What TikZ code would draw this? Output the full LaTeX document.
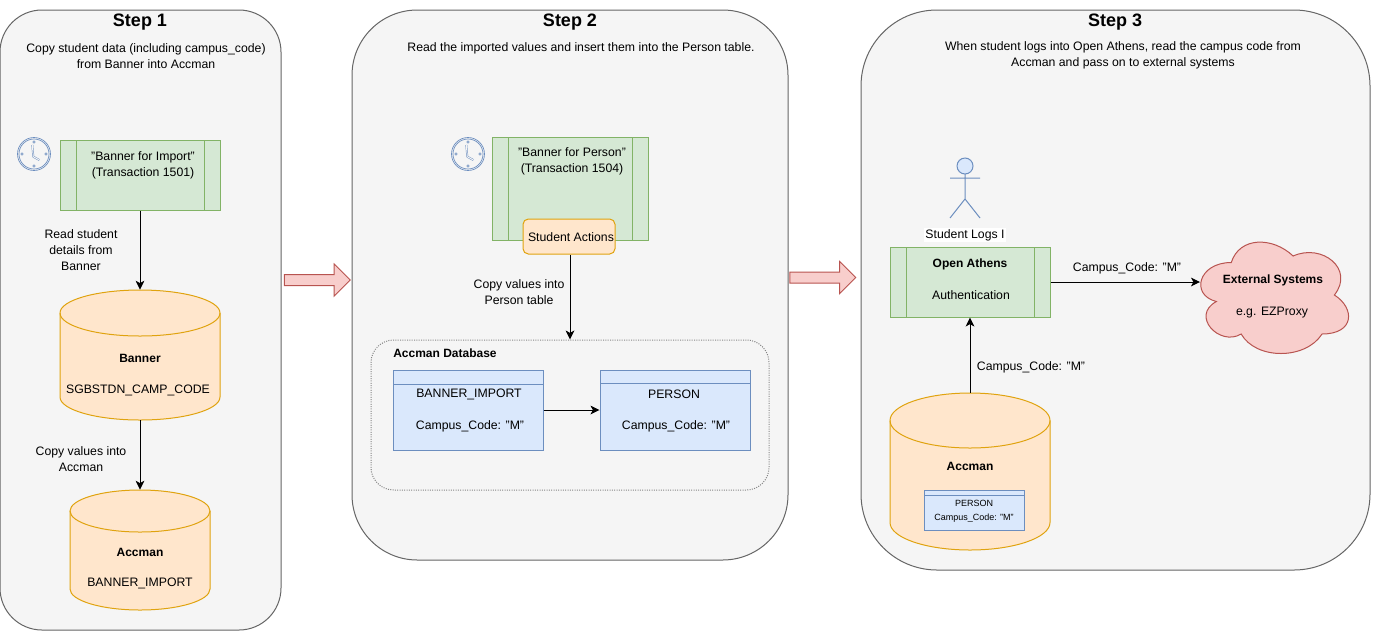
\documentclass[tikz,border=0pt]{standalone}
\usepackage{fontspec}
\setmainfont{Liberation Sans}
\usetikzlibrary{arrows.meta,shapes.arrows}
\definecolor{panelfill}{HTML}{F5F5F5}\definecolor{panelline}{HTML}{666666}
\definecolor{procfill}{HTML}{D5E8D4}\definecolor{procline}{HTML}{82B366}
\definecolor{dbfill}{HTML}{FFE6CC}\definecolor{dbline}{HTML}{E0A30F}
\definecolor{tabfill}{HTML}{DAE8FC}\definecolor{tabline}{HTML}{6C8EBF}
\definecolor{redfill}{HTML}{F8CECC}\definecolor{redline}{HTML}{B85450}
\tikzset{>={Stealth[inset=1.8pt,length=6.75pt,width=6.5pt]},every node/.style={font=\fontsize{9.2pt}{12pt}\selectfont,align=center,inner sep=0pt},
flow/.style={line width=.75pt,->},
panel/.style={draw=panelline,fill=panelfill,line width=.75pt},
steptitle/.style={font=\fontsize{13.5pt}{14pt}\selectfont\bfseries},
boldtxt/.style={font=\fontsize{9pt}{12pt}\selectfont\bfseries},
smalltxt/.style={font=\fontsize{6.75pt}{9pt}\selectfont},
procbox/.style={draw=procline,fill=procfill,line width=.75pt,minimum width=#1*.75pt,
  path picture={\draw[procline,line width=.75pt] ([xshift=12pt]path picture bounding box.north west)--([xshift=12pt]path picture bounding box.south west)
  ([xshift=-12pt]path picture bounding box.north east)--([xshift=-12pt]path picture bounding box.south east);}},
tabbox/.style={draw=tabline,fill=tabfill,line width=.75pt,
  path picture={\draw[tabline,line width=.75pt] ([yshift=-#1*.75pt]path picture bounding box.north west)--([yshift=-#1*.75pt]path picture bounding box.north east);}},
dbline/.style={draw=dbline,line width=.75pt},
bigarrow/.style={single arrow,draw=redline,fill=redfill,line width=.75pt,inner sep=3.75pt,minimum width=23.25pt,minimum height=49.5pt,single arrow head extend=7.9pt,single arrow head indent=0pt}}
% name, centre x, top y, half width, height, ellipse half height
\newcommand{\dbcylinder}[6]{\node[minimum width=#4*1.5pt,minimum height=#5*.75pt] (#1) at (#2,#3+#5/2){};
\filldraw[dbline,fill=dbfill] (#2-#4,#3+#6) arc[start angle=180,end angle=0,x radius=#4,y radius=-#6]--(#2+#4,#3+#5-#6) arc[start angle=0,end angle=180,x radius=#4,y radius=#6]--cycle;
\draw[dbline] (#2-#4,#3+#6) arc[start angle=180,end angle=0,x radius=#4,y radius=#6];}
\newcommand{\clockicon}{\draw[tabline,line width=.5pt] (0,0) circle(16.5) (0,0) circle(15);\draw[tabline,line width=.35pt,double=panelfill,double distance=.7pt,line join=round] (-1.7,-9)--(-.7,2.7)--(5.3,6);
\foreach \a in {0,90,180,270}{\draw[tabline,line width=.4pt] (\a:12) circle(1.3);}}
\newcommand{\cloudpath}{\filldraw[draw=redline,fill=redfill,line width=.75pt] (.25,.25) .. controls (.05,.25) and (0,.5) .. (.16,.55) .. controls (0,.66) and (.18,.9) .. (.31,.8) .. controls (.4,1) and (.7,1) .. (.8,.8) .. controls (1,.8) and (1,.6) .. (.875,.5) .. controls (1,.3) and (.8,.1) .. (.625,.2) .. controls (.5,.05) and (.3,.05) .. (.25,.25)--cycle;}
\begin{document}
\begin{tikzpicture}[x=.75pt,y=-.75pt]
\useasboundingbox (0,0) rectangle (1373,633);
\draw[panel,rounded corners=31.5pt] (0,10) rectangle (281,630);
\draw[panel,rounded corners=49pt] (352,10) rectangle (788,560);
\draw[panel,rounded corners=57pt] (861,10) rectangle (1370,570);
\node[steptitle] (title1) at (140,22){Step 1};
\node[steptitle] (title2) at (570,22){Step 2};
\node[steptitle] (title3) at (1115,22){Step 3};
\node (intro1) at (146,56){Copy student data (including campus\_code)\\from Banner into Accman};
\node (intro2) at (581,48){Read the imported values and insert them into the Person table.};
\node (intro3) at (1123,55){When student logs into Open Athens, read the campus code from\\Accman and pass on to external systems};
% step 1
\begin{scope}[shift={(34,154)}]\clockicon\end{scope}
\node[procbox=160,minimum height=52.5pt] (trimport) at (140,175){};
\node (trimporttxt) at (143,165){"Banner for Import"\\(Transaction 1501)};
\dbcylinder{dbbanner}{140}{290}{80}{130}{23}
\node[boldtxt] (dbbannername) at (140,358.500){Banner};
\node (dbbannercol) at (138,390.500){SGBSTDN\_CAMP\_CODE};
\dbcylinder{dbimport}{140}{490}{70}{120}{21}
\node[boldtxt] (dbimportname) at (140,552.500){Accman};
\node (dbimportcol) at (140,583.500){BANNER\_IMPORT};
\draw[flow] (trimport)--(dbbanner);
\draw[flow] (dbbanner)--(dbimport);
\node (readlbl) at (81,250){Read student\\details from\\Banner};
\node (copylbl) at (81,459.500){Copy values into\\Accman};
% step 2
\begin{scope}[shift={(468,154)}]\clockicon\end{scope}
\node[procbox=156,minimum height=77.25pt] (trperson) at (570,188.500){};
\node (trpersontxt) at (572,161.500){"Banner for Person"\\(Transaction 1504)};
\node[draw=dbline,fill=dbfill,line width=.75pt,rounded corners=4pt,minimum width=69pt,minimum height=26.25pt] (actions) at (569,236.500){};
\node (actionstxt) at (571,237.500){Student Actions};
\node[draw=panelline!80,densely dotted,line width=.75pt,rounded corners=17pt,minimum width=298.500pt,minimum height=112.500pt] (accdb) at (570,415){};
\node[boldtxt,anchor=west] (accdbname) at (393,353.500){Accman Database};
\node[tabbox=14,minimum width=112.500pt,minimum height=60pt] (tabimport) at (468,410){};
\node (tabimportname) at (469,394.500){BANNER\_IMPORT};
\node (tabimportcol) at (470,426.500){Campus\_Code: "M"};
\node[tabbox=13,minimum width=112.500pt,minimum height=60pt] (tabperson) at (675,410){};
\node (tabpersonname) at (674,394.500){PERSON};
\node (tabpersoncol) at (676,426.500){Campus\_Code: "M"};
\draw[flow] (actions.south-|accdb.north)--(accdb.north);
\draw[flow] (tabimport)--(tabperson);
\node (copyperson) at (519,292){Copy values into\\Person table};
% step 3
\draw[tabline,fill=tabfill,line width=.75pt] (965,166) circle(8);
\draw[tabline,line width=.75pt] (965,174)--(965,199) (950,178)--(980,178) (950,218)--(965,199)--(980,218);
\node[fill=white,inner sep=1pt] (actorlbl) at (965,235){Student Logs I};
\node[procbox=160,minimum height=52.5pt] (open) at (970,282){};
\node[boldtxt] (openname) at (970,264){Open Athens};
\node (openauth) at (971,295){Authentication};
\begin{scope}[shift={(1190,230)},x=123.75pt,y=-97.5pt]\cloudpath\end{scope}
\node[boldtxt] (extname) at (1273,280){External Systems};
\node (extproxy) at (1272,312.500){e.g. EZProxy};
\coordinate (extin) at (1200,282);
\dbcylinder{dbaccman}{970}{393}{80}{157}{27.500}
\node[boldtxt] (dbaccmanname) at (970,466){Accman};
\node[tabbox=5,minimum width=75pt,minimum height=30pt] (tabsmall) at (974,510){};
\node[smalltxt] (tabsmallname) at (974,503){PERSON};
\node[smalltxt] (tabsmallcol) at (974,518){Campus\_Code: "M"};
\draw[flow] (dbaccman)--(open);
\draw[flow] (open)--(extin);
\node (campustop) at (1127,268){Campus\_Code: "M"};
\node (campusup) at (1031,367){Campus\_Code: "M"};
% block arrows
\node[bigarrow] (next1) at (314.500,280){};
\node[bigarrow] (next2) at (820,277.500){};
\end{tikzpicture}
\end{document}
